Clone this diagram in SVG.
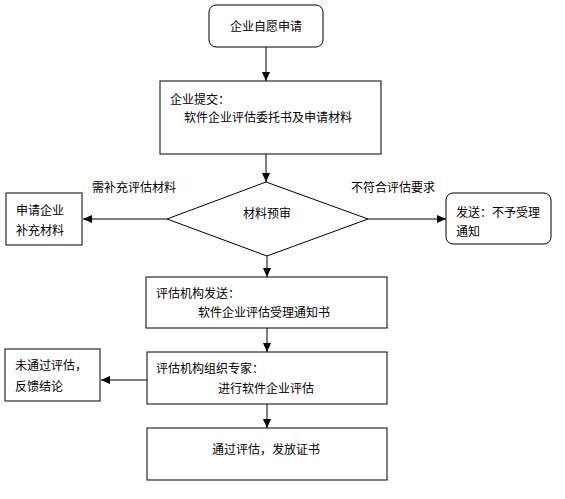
<svg xmlns="http://www.w3.org/2000/svg" width="565" height="499" viewBox="0 0 565 499">
<defs>
<marker id="arr" markerWidth="9" markerHeight="8" refX="9" refY="4" orient="auto" markerUnits="userSpaceOnUse">
<path d="M0,0 L9,4 L0,8 Z" fill="#000"/>
</marker>
<style>
.box{fill:#fff;stroke:#000;stroke-width:1}
.t{font-family:"Noto Sans CJK SC","Liberation Sans",sans-serif;font-size:12px;fill:#000}
.c{text-anchor:middle}
.ln{fill:none;stroke:#000;stroke-width:1}
</style>
</defs>
<rect width="565" height="499" fill="#fff"/>
<g id="connectors">
<line class="ln" x1="266" y1="47" x2="266" y2="81" marker-end="url(#arr)"/>
<line class="ln" x1="266" y1="154" x2="266" y2="182" marker-end="url(#arr)"/>
<line class="ln" x1="167" y1="219" x2="83" y2="219" marker-end="url(#arr)"/>
<line class="ln" x1="368" y1="219" x2="446" y2="219" marker-end="url(#arr)"/>
<line class="ln" x1="267" y1="256" x2="267" y2="277" marker-end="url(#arr)"/>
<line class="ln" x1="267" y1="328" x2="267" y2="352" marker-end="url(#arr)"/>
<line x1="147" y1="380" x2="101" y2="380" stroke="#555" stroke-width="1.5" marker-end="url(#arr)"/>
<line class="ln" x1="267" y1="404" x2="267" y2="428" marker-end="url(#arr)"/>
<text class="t" x="92" y="192">需补充评估材料</text>
<text class="t" x="351" y="192">不符合评估要求</text>
</g>
<g id="n1">
<rect class="box" x="209" y="5" width="114" height="42" rx="7"/>
<text class="t c" x="266" y="31">企业自愿申请</text>
</g>
<g id="n2">
<rect class="box" x="160" y="81" width="221" height="73"/>
<text class="t" x="170" y="104">企业提交：</text>
<text class="t" x="184" y="122">软件企业评估委托书及申请材料</text>
</g>
<g id="n3">
<polygon class="box" points="266,182 368,219 267,256 167,219"/>
<text class="t c" x="267" y="218">材料预审</text>
</g>
<g id="n4">
<rect class="box" x="6" y="193" width="76" height="52"/>
<text class="t" x="16" y="215">申请企业</text>
<text class="t" x="16" y="235">补充材料</text>
</g>
<g id="n5">
<rect class="box" x="446" y="193" width="105" height="51" rx="7"/>
<text class="t" x="456" y="217">发送：不予受理</text>
<text class="t" x="456" y="236">通知</text>
</g>
<g id="n6">
<rect class="box" x="146" y="277" width="241" height="51"/>
<text class="t" x="156" y="298">评估机构发送：</text>
<text class="t" x="198" y="317">软件企业评估受理通知书</text>
</g>
<g id="n7">
<rect class="box" x="147" y="352" width="240" height="52"/>
<text class="t" x="156" y="373">评估机构组织专家：</text>
<text class="t" x="218" y="393">进行软件企业评估</text>
</g>
<g id="n8">
<rect class="box" x="5" y="349" width="95" height="52"/>
<text class="t" x="15" y="370">未通过评估，</text>
<text class="t" x="15" y="391">反馈结论</text>
</g>
<g id="n9">
<rect class="box" x="147" y="428" width="240" height="52"/>
<text class="t" x="212" y="454">通过评估，发放证书</text>
</g>
</svg>
